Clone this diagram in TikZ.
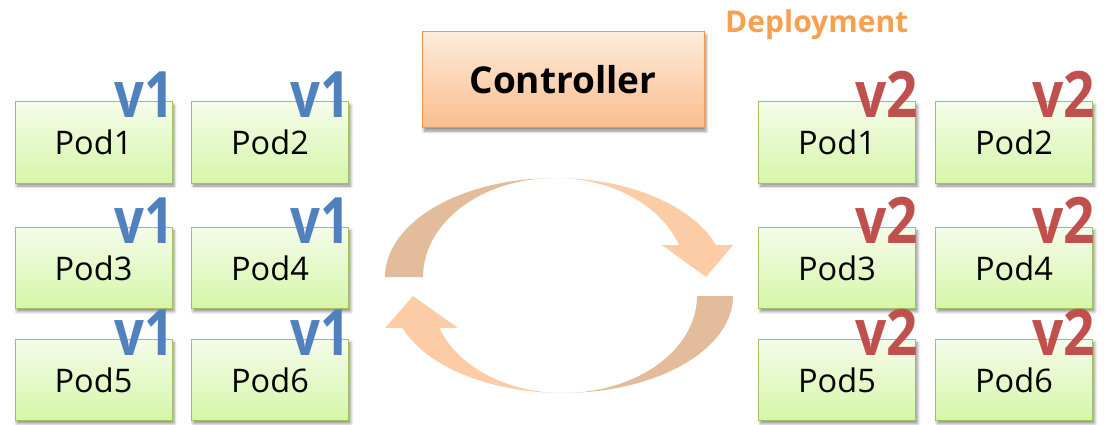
\documentclass[tikz,border=0pt]{standalone}
\usepackage{fontspec}
\setmainfont{Open Sans}
\usetikzlibrary{shadows.blur}
\definecolor{podtop}{RGB}{244,252,234}
\definecolor{podbot}{RGB}{214,246,168}
\definecolor{podline}{RGB}{155,195,95}
\definecolor{ctop}{RGB}{253,235,220}
\definecolor{cbot}{RGB}{250,190,140}
\definecolor{cline}{RGB}{247,150,70}
\definecolor{vone}{RGB}{79,129,189}
\definecolor{vtwo}{RGB}{192,80,77}
\definecolor{deptext}{RGB}{247,160,80}
\definecolor{arrdark}{RGB}{227,188,155}
\definecolor{arrlight}{RGB}{251,204,166}
\tikzset{
  podbox/.style={rectangle, draw=podline, line width=1pt, top color=podtop, bottom color=podbot,
    minimum width=157pt, minimum height=81pt, inner sep=0pt,
    font=\fontsize{32.5}{34}\selectfont,
    blur shadow={shadow xshift=2pt, shadow yshift=-3pt, shadow blur radius=3pt, shadow opacity=45}},
  verlabel/.style={anchor=base east, inner sep=0pt, xshift=2pt, yshift=-16pt,
    font=\fontsize{64}{64}\selectfont\bfseries},
  ctrlbox/.style={rectangle, draw=cline, line width=1pt, top color=ctop, bottom color=cbot,
    minimum width=282pt, minimum height=96pt, inner sep=0pt,
    font=\fontsize{37}{40}\selectfont\bfseries,
    blur shadow={shadow xshift=2pt, shadow yshift=-3pt, shadow blur radius=3pt, shadow opacity=45}}
}
\newcommand{\vone}{\scalebox{0.82}[1]{v1}}
\newcommand{\vtwo}{\scalebox{0.86}[1]{v2}}
\begin{document}
\begin{tikzpicture}[x=1pt,y=-1pt]
\useasboundingbox (0,0) rectangle (1119,425);
% circular arrows
\fill[arrdark] plot[domain=180:90,samples=40] ({555+170*cos(\x)},{277-99*sin(\x)})
  -- plot[domain=90:180,samples=40] ({555+132*cos(\x)},{277-99*sin(\x)}) -- cycle;
\fill[arrlight] plot[domain=90:18.86,samples=40] ({555+170*cos(\x)},{277-99*sin(\x)})
  -- (733,245) -- (706,277) -- (662,245)
  -- plot[domain=18.86:90,samples=40] ({555+131*cos(\x)},{277-99*sin(\x)}) -- cycle;
\fill[arrdark] plot[domain=0:-90,samples=40] ({563+170*cos(\x)},{296-97*sin(\x)})
  -- plot[domain=-90:0,samples=40] ({563+134*cos(\x)},{296-97*sin(\x)}) -- cycle;
\fill[arrlight] plot[domain=270:199.26,samples=40] ({563+170*cos(\x)},{296-97*sin(\x)})
  -- (385,328) -- (413,296) -- (458,328)
  -- plot[domain=199.26:270,samples=40] ({563+131*cos(\x)},{296-97*sin(\x)}) -- cycle;
% controller
\node[ctrlbox] (ctrl) at (563,80) {Controller};
\node[anchor=base west, inner sep=0pt, text=deptext, font=\fontsize{30}{32}\selectfont\bfseries] (dep) at (725,33) {Deployment};
% left pods
\node[podbox] (L1) at (93.5,142.5) {Pod1};
\node[podbox] (L2) at (270,142.5) {Pod2};
\node[podbox] (L3) at (93.5,268) {Pod3};
\node[podbox] (L4) at (270,268) {Pod4};
\node[podbox] (L5) at (93.5,380) {Pod5};
\node[podbox] (L6) at (270,380) {Pod6};
% right pods
\node[podbox] (R1) at (837,142.5) {Pod1};
\node[podbox] (R2) at (1014,142.5) {Pod2};
\node[podbox] (R3) at (837,268) {Pod3};
\node[podbox] (R4) at (1014,268) {Pod4};
\node[podbox] (R5) at (837,380) {Pod5};
\node[podbox] (R6) at (1014,380) {Pod6};
% version labels
\foreach \p in {L1,L2,L3,L4,L5,L6}{
  \node[verlabel, text=vone] (v\p) at (\p.north east) {\vone};
}
\foreach \p in {R1,R2,R3,R4,R5,R6}{
  \node[verlabel, text=vtwo] (v\p) at (\p.north east) {\vtwo};
}
\end{tikzpicture}
\end{document}
